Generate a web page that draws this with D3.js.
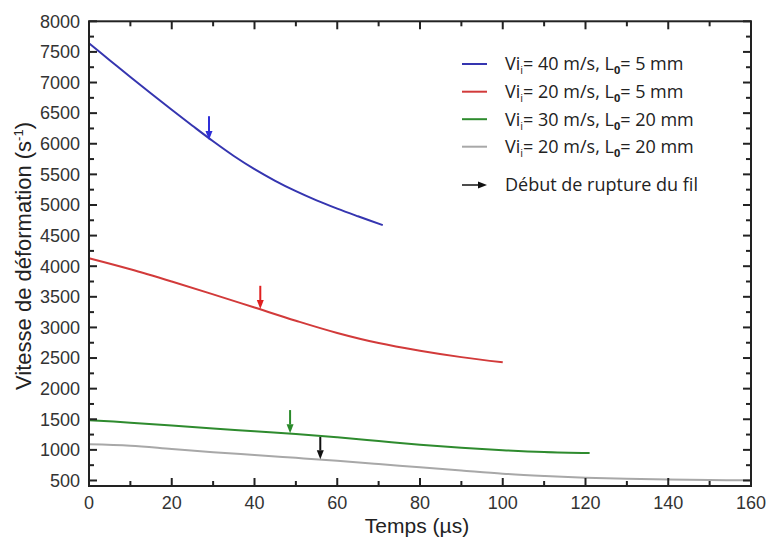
<!DOCTYPE html>
<html><head><meta charset="utf-8">
<script src="https://cdn.jsdelivr.net/npm/d3@7"></script>
<style>body{margin:0;background:#fff}svg{display:block}</style>
</head><body><svg id="c" width="767" height="540"></svg>
<script>
// ---- data ----
const blueT = [0, 5, 10, 15, 20, 25, 30, 35, 40, 45, 50, 55, 60, 65, 71];
const blueV = [7640, 7365, 7090, 6820, 6555, 6295, 6040, 5800, 5585, 5395, 5225, 5075, 4940, 4815, 4670];
const redT = [0, 10, 20, 30, 40, 50, 60, 70, 80, 90, 100];
const redV = [4130, 3950, 3750, 3540, 3325, 3110, 2910, 2745, 2620, 2515, 2430];
const greenT = [0, 10, 20, 30, 40, 50, 60, 70, 80, 90, 100, 110, 121];
const greenV = [1485, 1445, 1400, 1350, 1305, 1260, 1205, 1145, 1085, 1035, 995, 965, 948];
const grayT = [0, 10, 20, 30, 40, 50, 60, 70, 80, 90, 100, 110, 120, 130, 140, 150, 160];
const grayV = [1090, 1068, 1015, 963, 917, 870, 822, 770, 715, 663, 612, 575, 545, 527, 515, 507, 503];
const arrowT = [29, 41.4, 48.6, 55.9];
const arrowFrom = [6450, 3680, 1650, 1210];
const arrowTo = [6060, 3300, 1270, 845];
const seriesNames = ["blue", "red", "green", "gray"];
const legendVi = ["40", "20", "30", "20"];
const legendL0 = ["5", "5", "20", "20"];
const arrowLabel = "Début de rupture du fil";
const xTicks = [0, 20, 40, 60, 80, 100, 120, 140, 160];
const yTicks = [500, 1000, 1500, 2000, 2500, 3000, 3500, 4000, 4500, 5000, 5500, 6000, 6500, 7000, 7500, 8000];
const xTitle = "Temps (µs)";

const colors = {blue: "#3535b0", red: "#d23a3a", green: "#2e8b2e", gray: "#a8a8a8"};
const arrowColors = ["#2f2fd8", "#e02020", "#2a8a2a", "#111"];

const svg = d3.select("#c");
const X0 = 89, X1 = 751, YT = 21.3, YB = 486;
const x = d3.scaleLinear().domain([0, 160]).range([X0, X1]);
const y = d3.scaleLinear().domain([410, 8000]).range([YB, YT]);

// curves
const data = {
  blue: blueT.map((t, i) => [t, blueV[i]]),
  red: redT.map((t, i) => [t, redV[i]]),
  green: greenT.map((t, i) => [t, greenV[i]]),
  gray: grayT.map((t, i) => [t, grayV[i]])
};
const line = d3.line().x(d => x(d[0])).y(d => y(d[1])).curve(d3.curveCatmullRom);
seriesNames.forEach(n => {
  svg.append("path").attr("d", line(data[n])).attr("fill", "none")
    .attr("stroke", colors[n]).attr("stroke-width", 2);
});

// arrows
function arrow(g, x1, y1, x2, y2, col, hl, hw, sw) {
  const dx = x2 - x1, dy = y2 - y1, L = Math.hypot(dx, dy);
  const ux = dx / L, uy = dy / L;
  const bx = x2 - ux * hl, by = y2 - uy * hl;
  g.append("line").attr("x1", x1).attr("y1", y1).attr("x2", bx).attr("y2", by)
    .attr("stroke", col).attr("stroke-width", sw);
  g.append("path").attr("d", `M${x2},${y2}L${bx - uy * hw},${by + ux * hw}L${bx + uy * hw},${by - ux * hw}Z`)
    .attr("fill", col);
}
const ag = svg.append("g");
arrowT.forEach((t, i) => arrow(ag, x(t), y(arrowFrom[i]), x(t), y(arrowTo[i]), arrowColors[i], 9, 3.5, 2));

// axes frame
const axCol = "#222";
const axG = svg.append("g").attr("stroke", axCol).attr("stroke-width", 2).attr("fill", "none");
axG.append("rect").attr("x", X0).attr("y", YT).attr("width", X1 - X0).attr("height", YB - YT);

const xMinor = d3.range(10, 160, 20);
const yMinor = d3.range(750, 8000, 500);
const maj = 8, mnr = 5;
xTicks.forEach(t => {
  axG.append("line").attr("x1", x(t)).attr("x2", x(t)).attr("y1", YB).attr("y2", YB - maj);
  axG.append("line").attr("x1", x(t)).attr("x2", x(t)).attr("y1", YT).attr("y2", YT + maj);
});
xMinor.forEach(t => {
  axG.append("line").attr("x1", x(t)).attr("x2", x(t)).attr("y1", YB).attr("y2", YB - mnr);
  axG.append("line").attr("x1", x(t)).attr("x2", x(t)).attr("y1", YT).attr("y2", YT + mnr);
});
yTicks.forEach(v => {
  axG.append("line").attr("x1", X0).attr("x2", X0 + maj).attr("y1", y(v)).attr("y2", y(v));
  axG.append("line").attr("x1", X1).attr("x2", X1 - maj).attr("y1", y(v)).attr("y2", y(v));
});
yMinor.forEach(v => {
  axG.append("line").attr("x1", X0).attr("x2", X0 + mnr).attr("y1", y(v)).attr("y2", y(v));
  axG.append("line").attr("x1", X1).attr("x2", X1 - mnr).attr("y1", y(v)).attr("y2", y(v));
});

// tick labels
const tf = "Liberation Sans, Arial, sans-serif";
svg.append("g").selectAll("text").data(xTicks).join("text")
  .attr("x", d => x(d)).attr("y", 509).attr("text-anchor", "middle")
  .attr("font-family", tf).attr("font-size", 18).attr("fill", "#333").text(d => d);
svg.append("g").selectAll("text").data(yTicks).join("text")
  .attr("x", 80).attr("y", d => y(d)).attr("dy", "0.35em").attr("text-anchor", "end")
  .attr("font-family", tf).attr("font-size", 18).attr("fill", "#333").text(d => d);

// axis titles
svg.append("text").attr("x", 417).attr("y", 533).attr("text-anchor", "middle")
  .attr("font-family", tf).attr("font-size", 21).attr("fill", "#222").text(xTitle);
const yt = svg.append("text").attr("transform", "translate(31,256) rotate(-90)")
  .attr("text-anchor", "middle").attr("font-family", tf).attr("font-size", 22).attr("fill", "#222");
yt.append("tspan").text("Vitesse de déformation (s");
yt.append("tspan").attr("font-size", 13).attr("dy", -8).text("-1");
yt.append("tspan").attr("dy", 8).text(")");

// legend
const lf = "Open Sans, Noto Sans, sans-serif";
const legY = [64, 91.7, 119.2, 146.7];
const lfs = 18;
seriesNames.forEach((n, i) => {
  svg.append("line").attr("x1", 462).attr("x2", 487).attr("y1", legY[i]).attr("y2", legY[i])
    .attr("stroke", colors[n]).attr("stroke-width", 2);
  const t = svg.append("text").attr("x", 505).attr("y", legY[i]).attr("dy", "0.35em")
    .attr("font-family", lf).attr("font-size", lfs).attr("fill", "#222");
  t.append("tspan").text("Vi");
  t.append("tspan").attr("font-size", 11).attr("dy", 4).text("i");
  t.append("tspan").attr("dy", -4).text(`= ${legendVi[i]} m/s, L`);
  t.append("tspan").attr("font-size", 11).attr("font-weight", "bold").attr("dy", 4).text("0");
  t.append("tspan").attr("dy", -4).text(`= ${legendL0[i]} mm`);
});
arrow(svg, 462, 185, 487, 185, "#111", 9, 3.5, 1.5);
svg.append("text").attr("x", 505).attr("y", 185).attr("dy", "0.35em")
  .attr("font-family", lf).attr("font-size", lfs).attr("fill", "#222").text(arrowLabel);
</script></body></html>
